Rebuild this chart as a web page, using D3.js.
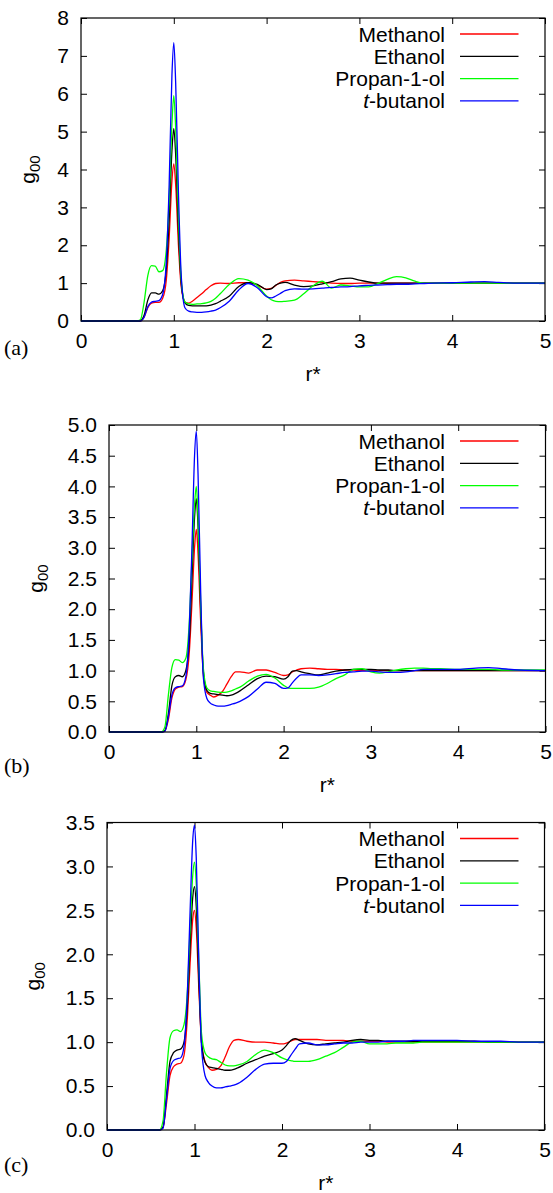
<!DOCTYPE html>
<html>
<head>
<meta charset="utf-8">
<script src="https://cdn.jsdelivr.net/npm/d3@7"></script>
<style>
  body { margin: 0; background: #fff; }
  svg text { font-family: "Liberation Sans", Arial, sans-serif; fill: #000; }
  .panel-tag { font-family: "Liberation Serif", "DejaVu Serif", serif; }
</style>
</head>
<body>
<div id="chart"></div>
<script>
// shared r* grid that every curve is read on
var rGrid = [0, 0.6, 0.64, 0.68, 0.72, 0.76, 0.8, 0.84, 0.88,
             0.92, 0.95, 0.98, 1.0, 1.02, 1.05, 1.08, 1.12,
             1.16, 1.2, 1.25, 1.3, 1.35, 1.4, 1.45, 1.5,
             1.6, 1.7, 1.8, 1.9, 2.0, 2.05, 2.1, 2.15, 2.2,
             2.3, 2.4, 2.5, 2.6, 2.7, 2.8, 2.9, 3.0,
             3.1, 3.2, 3.3, 3.4, 3.5, 3.6, 3.7, 3.8,
             4.0, 4.2, 4.35, 4.5, 4.7, 5.0];

var seriesNames = ['Methanol', 'Ethanol', 'Propan-1-ol', 't-butanol'];
var seriesColors = ['#ff0000', '#000000', '#00ff00', '#0000ff'];

// panel (a)
var aMethanol = [0,0,0,0.1,0.35,0.47,0.49,0.49,0.6,
  1.1,2.2,3.7,4.15,3.6,2.0,0.9,0.5,
  0.47,0.52,0.62,0.72,0.83,0.93,0.99,1.0,
  0.99,1.01,1.01,0.95,0.84,0.86,0.94,1.02,1.06,
  1.08,1.06,1.04,1.02,1.0,0.99,0.99,1.0,
  1.0,1.0,1.0,1.0,1.0,1.0,1.0,1.0,
  1.0,1.0,1.0,1.0,1.0,1.0];
var aEthanol = [0,0,0.01,0.15,0.55,0.74,0.74,0.71,0.8,
  1.4,2.7,4.5,5.08,4.4,2.4,1.0,0.48,
  0.41,0.4,0.4,0.4,0.4,0.42,0.46,0.52,
  0.66,0.91,1.01,0.97,0.83,0.85,0.95,1.0,1.02,
  0.95,0.91,0.93,0.98,1.04,1.11,1.13,1.08,
  1.03,1.0,1.0,1.0,1.0,1.0,1.0,1.0,
  1.0,1.0,1.0,1.0,1.0,1.0];
var aPropanol = [0,0,0.03,0.5,1.2,1.46,1.45,1.3,1.33,
  1.9,3.2,5.2,5.95,5.1,2.8,1.1,0.5,
  0.45,0.44,0.45,0.46,0.48,0.52,0.6,0.72,
  0.97,1.12,1.08,0.93,0.66,0.56,0.52,0.51,0.52,
  0.55,0.72,0.93,1.05,0.87,0.95,0.93,0.9,
  0.9,0.99,1.1,1.17,1.14,1.05,1.0,1.0,
  1.0,1.0,1.0,1.0,1.0,1.0];
var aButanol = [0,0,0,0.1,0.38,0.5,0.52,0.54,0.7,
  1.6,3.6,6.5,7.35,6.3,3.4,1.2,0.35,
  0.26,0.24,0.23,0.23,0.24,0.26,0.29,0.35,
  0.53,0.82,0.99,0.88,0.64,0.61,0.66,0.73,0.8,
  0.85,0.84,0.85,0.87,0.89,0.9,0.91,0.93,
  0.94,0.95,0.96,0.97,0.97,0.98,0.99,1.0,
  1.01,1.03,1.04,1.02,1.0,1.0];

// panel (b)
var bMethanol = [0,0,0.02,0.2,0.55,0.7,0.73,0.74,0.85,
  1.3,2.1,3.0,3.3,2.9,1.8,0.95,0.65,
  0.6,0.57,0.6,0.66,0.78,0.9,0.98,0.98,
  0.96,1.01,1.01,0.97,0.92,0.93,0.98,1.01,1.03,
  1.04,1.03,1.02,1.02,1.01,1.01,1.0,1.0,
  1.0,1.0,1.0,1.0,1.0,1.0,1.0,1.0,
  1.0,1.0,1.0,1.0,1.0,1.0];
var bEthanol = [0,0,0.02,0.3,0.75,0.9,0.92,0.9,1.0,
  1.5,2.5,3.5,3.8,3.35,2.0,1.0,0.68,
  0.63,0.62,0.61,0.6,0.59,0.6,0.63,0.67,
  0.77,0.87,0.91,0.9,0.86,0.9,0.99,1.0,0.98,
  0.95,0.93,0.96,0.99,1.01,1.02,1.02,1.02,
  1.01,1.01,1.0,1.0,1.0,1.0,1.0,1.0,
  1.0,1.0,1.0,1.0,1.0,1.0];
var bPropanol = [0,0,0.08,0.6,1.05,1.18,1.17,1.13,1.2,
  1.8,2.8,3.7,4.0,3.5,2.1,1.05,0.72,
  0.67,0.66,0.65,0.645,0.65,0.67,0.7,0.73,
  0.83,0.91,0.94,0.88,0.76,0.72,0.71,0.71,0.71,
  0.71,0.73,0.79,0.87,0.93,1.02,1.03,0.98,
  0.96,0.98,1.01,1.03,1.04,1.04,1.03,1.03,
  1.02,1.02,1.02,1.01,1.01,1.01];
var bButanol = [0,0,0.01,0.25,0.6,0.72,0.74,0.75,0.9,
  1.7,3.0,4.5,4.9,4.2,2.3,0.9,0.55,
  0.47,0.44,0.42,0.42,0.43,0.45,0.47,0.5,
  0.58,0.7,0.81,0.79,0.71,0.72,0.8,0.88,0.93,
  0.93,0.92,0.93,0.95,0.97,0.98,0.99,0.99,
  0.98,0.97,0.97,0.98,1.0,1.02,1.02,1.02,
  1.02,1.04,1.05,1.03,1.01,1.0];

// panel (c)
var cMethanol = [0,0,0.03,0.3,0.62,0.72,0.75,0.76,0.85,
  1.3,1.9,2.4,2.5,2.3,1.6,1.0,0.78,
  0.71,0.68,0.69,0.73,0.83,0.95,1.02,1.03,
  1.01,1.0,1.0,0.99,0.98,0.99,1.01,1.03,1.03,
  1.03,1.03,1.02,1.02,1.02,1.01,1.01,1.01,
  1.01,1.0,1.0,1.0,1.0,1.0,1.0,1.0,
  1.0,1.0,1.0,1.0,1.0,1.0];
var cEthanol = [0,0,0.03,0.4,0.78,0.88,0.91,0.92,1.0,
  1.45,2.1,2.65,2.77,2.55,1.7,1.0,0.77,
  0.72,0.71,0.7,0.69,0.68,0.68,0.69,0.71,
  0.76,0.8,0.84,0.87,0.91,0.96,1.02,1.04,1.02,
  0.98,0.97,0.98,0.99,1.0,1.02,1.03,1.02,
  1.02,1.01,1.01,1.01,1.01,1.01,1.01,1.01,
  1.01,1.01,1.0,1.0,1.0,1.0];
var cPropanol = [0,0,0.1,0.65,1.05,1.13,1.14,1.12,1.2,
  1.6,2.3,2.9,3.05,2.8,1.9,1.1,0.88,
  0.83,0.81,0.8,0.77,0.74,0.73,0.73,0.74,
  0.78,0.86,0.91,0.88,0.82,0.8,0.79,0.78,0.78,
  0.78,0.8,0.84,0.88,0.94,1.0,1.01,0.98,
  0.98,0.98,0.99,0.99,0.99,1.0,1.0,1.0,
  1.0,1.0,1.0,1.0,1.0,1.0];
var cButanol = [0,0,0.02,0.35,0.7,0.79,0.81,0.82,0.95,
  1.6,2.5,3.3,3.47,3.1,1.9,0.95,0.62,
  0.54,0.5,0.48,0.48,0.49,0.5,0.51,0.53,
  0.6,0.69,0.75,0.76,0.76,0.78,0.85,0.92,0.98,
  0.99,0.97,0.97,0.98,0.99,0.99,1.0,1.0,
  1.0,1.01,1.01,1.01,1.02,1.02,1.02,1.02,
  1.02,1.01,1.01,1.01,1.0,1.0];

var xTicks = [0, 1, 2, 3, 4, 5];
var aYTicks = [0, 1, 2, 3, 4, 5, 6, 7, 8];
var bYTicks = [0, 0.5, 1, 1.5, 2, 2.5, 3, 3.5, 4, 4.5, 5];
var cYTicks = [0, 0.5, 1, 1.5, 2, 2.5, 3, 3.5];

var width = 553, height = 1193;

var panels = [
  { tag: '(a)', series: [aMethanol, aEthanol, aPropanol, aButanol], yTicks: aYTicks, fmt: d3.format('d'),
    left: 81, right: 545, top: 18, bottom: 321, yLabX: 35, tagY: 355 },
  { tag: '(b)', series: [bMethanol, bEthanol, bPropanol, bButanol], yTicks: bYTicks, fmt: d3.format('.1f'),
    left: 109, right: 545.5, top: 425, bottom: 732, yLabX: 43, tagY: 773 },
  { tag: '(c)', series: [cMethanol, cEthanol, cPropanol, cButanol], yTicks: cYTicks, fmt: d3.format('.1f'),
    left: 107, right: 544.5, top: 822.5, bottom: 1130, yLabX: 40, tagY: 1172 }
];

var svg = d3.select('#chart').append('svg')
  .attr('width', width)
  .attr('height', height);

/*
 * Draw one g00(r*) panel: frame with mirrored inward ticks,
 * four curves, legend, axis titles and the (a)/(b)/(c) tag.
 */
function drawPanel(p) {
  var xScale = d3.scaleLinear().domain([0, 5]).range([p.left, p.right]);
  var yMax = p.yTicks[p.yTicks.length - 1];
  var yScale = d3.scaleLinear().domain([0, yMax]).range([p.bottom, p.top]);
  var tick = 6;

  var g = svg.append('g');

  // bottom + mirrored top
  g.append('g')
    .attr('transform', 'translate(0,' + p.bottom + ')')
    .call(d3.axisBottom(xScale).tickValues(xTicks).tickFormat(d3.format('d'))
      .tickSizeInner(-tick).tickSizeOuter(0).tickPadding(12))
    .call(function(s) {
      s.selectAll('text').attr('font-size', 21).attr('dy', '0.71em')
        .style('font-family', '"Liberation Sans", Arial, sans-serif');
      s.select('.domain').remove();
    });
  g.append('g')
    .attr('transform', 'translate(0,' + p.top + ')')
    .call(d3.axisTop(xScale).tickValues(xTicks).tickSizeInner(-tick).tickSizeOuter(0).tickFormat(''))
    .call(function(s) { s.select('.domain').remove(); });

  // left + mirrored right
  g.append('g')
    .attr('transform', 'translate(' + p.left + ',0)')
    .call(d3.axisLeft(yScale).tickValues(p.yTicks).tickFormat(p.fmt).tickSizeInner(-tick).tickSizeOuter(0).tickPadding(12))
    .call(function(s) {
      s.selectAll('text').attr('font-size', 21)
        .style('font-family', '"Liberation Sans", Arial, sans-serif');
      s.select('.domain').remove();
    });
  g.append('g')
    .attr('transform', 'translate(' + p.right + ',0)')
    .call(d3.axisRight(yScale).tickValues(p.yTicks).tickSizeInner(-tick).tickSizeOuter(0).tickFormat(''))
    .call(function(s) { s.select('.domain').remove(); });

  g.selectAll('.tick line').attr('stroke', '#000').attr('stroke-width', 1);

  var line = d3.line()
    .x(function(d, i) { return xScale(rGrid[i]); })
    .y(function(d) { return yScale(d); })
    .curve(d3.curveMonotoneX);

  g.selectAll('.curve')
    .data(p.series)
    .enter()
    .append('path')
    .attr('class', 'curve')
    .attr('d', function(d) { return line(d); })
    .attr('fill', 'none')
    .attr('stroke', function(d, i) { return seriesColors[i]; })
    .attr('stroke-width', 1.3);

  // frame on top
  g.append('rect')
    .attr('x', p.left).attr('y', p.top)
    .attr('width', p.right - p.left).attr('height', p.bottom - p.top)
    .attr('fill', 'none').attr('stroke', '#000').attr('stroke-width', 1.2);

  // legend
  var rows = [16, 38.3, 60.6, 82.9];
  var leg = g.selectAll('.leg')
    .data(seriesNames)
    .enter()
    .append('g')
    .attr('transform', function(d, i) { return 'translate(0,' + (p.top + rows[i]) + ')'; });
  leg.append('line')
    .attr('x1', 460).attr('x2', 518.5)
    .attr('stroke', function(d, i) { return seriesColors[i]; })
    .attr('stroke-width', 1.3);
  var lt = leg.append('text')
    .attr('x', 445).attr('y', 7.5)
    .attr('text-anchor', 'end')
    .attr('font-size', 21);
  lt.each(function(d) {
    var t = d3.select(this);
    if (d === 't-butanol') {
      t.append('tspan').attr('font-style', 'italic').text('t');
      t.append('tspan').text('-butanol');
    } else {
      t.text(d);
    }
  });

  // axis titles
  var yl = g.append('text')
    .attr('transform', 'translate(' + p.yLabX + ',' + ((p.top + p.bottom) / 2) + ') rotate(-90)')
    .attr('text-anchor', 'middle')
    .attr('font-size', 21);
  yl.append('tspan').text('g');
  yl.append('tspan').attr('font-size', 15).attr('dy', 5).text('00');

  g.append('text')
    .attr('x', xScale(2.5)).attr('y', p.bottom + 60)
    .attr('text-anchor', 'middle')
    .attr('font-size', 21)
    .text('r*');

  g.append('text')
    .attr('class', 'panel-tag')
    .attr('x', 4).attr('y', p.tagY)
    .attr('font-size', 22)
    .style('font-family', '"Liberation Serif", "DejaVu Serif", serif')
    .text(p.tag);
}

panels.forEach(drawPanel);
</script>
</body>
</html>
